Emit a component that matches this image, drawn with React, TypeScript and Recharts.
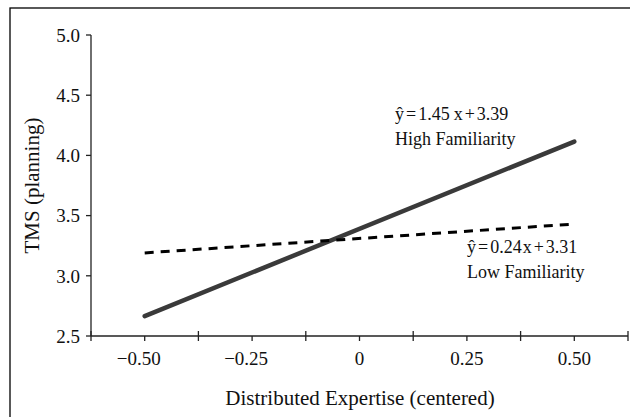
import React from 'react';
import { LineChart, Line, XAxis, YAxis, Customized } from 'recharts';

// ---- data ----
const xValues = [-0.5, 0.5];
const highFamiliarity = [2.665, 4.115];
const lowFamiliarity = [3.19, 3.43];

const xTickValues = [-0.5, -0.25, 0, 0.25, 0.5];
const xTickLabels = ['−0.50', '−0.25', '0', '0.25', '0.50'];
const xSeparators = [-0.625, -0.375, -0.125, 0.125, 0.375, 0.625];
const yTickValues = [2.5, 3.0, 3.5, 4.0, 4.5, 5.0];

const highEquation = ['ŷ', '=', '1.45', 'x', '+', '3.39'];
const lowEquation = ['ŷ', '=', '0.24', 'x', '+', '3.31'];
const highLabel = 'High Familiarity';
const lowLabel = 'Low Familiarity';
const xTitle = 'Distributed Expertise (centered)';
const yTitle = 'TMS (planning)';

const data = xValues.map((x, i) => ({ x, high: highFamiliarity[i], low: lowFamiliarity[i] }));
const allXTicks = [...xSeparators, ...xTickValues].sort((a, b) => a - b);

const FONT = '"Liberation Serif", "Times New Roman", serif';
const AXIS = '#222';

const XTick = (props: any) => {
  const { x, y, payload } = props;
  const v = payload.value;
  const idx = xTickValues.indexOf(v);
  if (idx < 0) {
    return <line x1={x} x2={x} y1={y - 5} y2={y + 5} stroke={AXIS} strokeWidth={1.3} />;
  }
  const label = xTickLabels[idx];
  const neg = label.startsWith('−');
  return (
    <g>
      <line x1={x} x2={x} y1={y} y2={y + 5} stroke={AXIS} strokeWidth={1.3} />
      <text
        x={neg ? x + 16 : x}
        y={y + 29}
        textAnchor={neg ? 'end' : 'middle'}
        fontFamily={FONT}
        fontSize={19}
        fill="#111"
      >
        {label}
      </text>
    </g>
  );
};

const Equation = ({ x, y, parts, gaps }: { x: number; y: number; parts: string[]; gaps: number[] }) => (
  <text x={x} y={y} fontFamily={FONT} fontSize={18} fill="#111">
    {parts.map((p, i) => (
      <tspan key={i} dx={i === 0 ? 0 : gaps[i - 1]}>
        {p}
      </tspan>
    ))}
  </text>
);

const Overlay = () => (
  <g>
    <rect x={10} y={8} width={700} height={500} fill="none" stroke="#000" strokeWidth={1.3} />
    <Equation x={395} y={120} parts={highEquation} gaps={[2, 2, 4, 2, 2]} />
    <text x={395} y={145} fontFamily={FONT} fontSize={18} fill="#111">
      {highLabel}
    </text>
    <Equation x={467} y={253} parts={lowEquation} gaps={[2, 2, 1, 2, 2]} />
    <text x={467} y={278} fontFamily={FONT} fontSize={18} fill="#111">
      {lowLabel}
    </text>
    <text x={360} y={405} textAnchor="middle" fontFamily={FONT} fontSize={21} fill="#111">
      {xTitle}
    </text>
    <text
      x={39}
      y={185.5}
      transform="rotate(-90 39 185.5)"
      textAnchor="middle"
      fontFamily={FONT}
      fontSize={21}
      fill="#111"
    >
      {yTitle}
    </text>
  </g>
);

export default function App() {
  return (
    <div style={{ position: 'absolute', left: 0, top: 0, width: 630, height: 417, background: '#fff' }}>
      <LineChart width={630} height={417} data={data} margin={{ top: 35, right: 2, bottom: 21, left: 31 }}>
        <XAxis
          dataKey="x"
          type="number"
          domain={[-0.625, 0.625]}
          ticks={allXTicks}
          interval={0}
          tick={<XTick />}
          tickLine={false}
          tickSize={0}
          tickMargin={0}
          axisLine={{ stroke: AXIS, strokeWidth: 1.3 }}
          height={60}
        />
        <YAxis
          type="number"
          domain={[2.5, 5]}
          ticks={yTickValues}
          interval={0}
          tickFormatter={(v: number) => v.toFixed(1)}
          tick={{ fill: '#111', fontSize: 19, fontFamily: FONT }}
          tickSize={5}
          tickMargin={6}
          tickLine={{ stroke: AXIS, strokeWidth: 1.3 }}
          axisLine={{ stroke: AXIS, strokeWidth: 1.3 }}
          width={60}
        />
        <Line
          dataKey="high"
          stroke="#3a3a3a"
          strokeWidth={4.5}
          strokeLinecap="round"
          dot={false}
          activeDot={false}
          isAnimationActive={false}
        />
        <Line
          dataKey="low"
          stroke="#000"
          strokeWidth={3}
          strokeDasharray="9 7"
          dot={false}
          activeDot={false}
          isAnimationActive={false}
        />
        <Customized component={Overlay} />
      </LineChart>
    </div>
  );
}
